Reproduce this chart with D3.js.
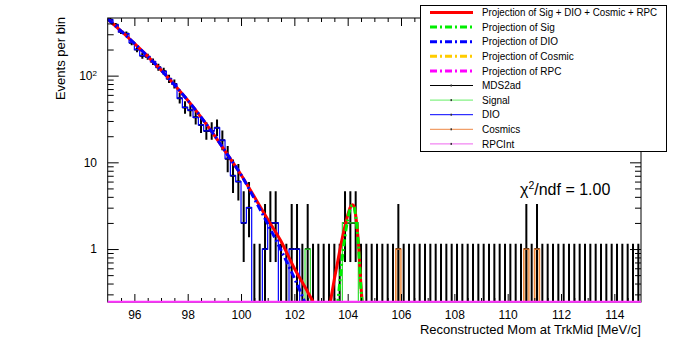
<!DOCTYPE html>
<html><head><meta charset="utf-8">
<script src="https://cdn.jsdelivr.net/npm/d3@7"></script>
<style>
body{margin:0;background:#fff;}
svg{display:block;}
text{font-family:"Liberation Sans",Arial,Helvetica,sans-serif;fill:#000;}
</style>
</head><body>
<svg id="c" width="675" height="360"></svg>
<script>
// ---------------- DATA ----------------
const binWidth = 0.2;
const binLow = d3.range(100).map(i => +(95 + binWidth * i).toFixed(1));

const dataCounts = [
 440,385,320,305,240,200,170,165,145,125,
 112,92,80,55,43,40,33,27,23,23,
 25,18,11,7,6,2,3,0,0,1,
 2,2,0,0,1,1,0,1,0,0,
 0,0,0,0,2,2,2,0,0,0,
 0,0,0,0,1,0,0,0,0,0,
 0,0,0,0,0,0,0,0,0,0,
 0,0,0,0,0,0,0,0,1,0,
 1,0,0,0,0,0,0,0,0,0,
 0,0,0,0,0,0,0,0,0,0];
const dioCounts = [
 440,385,320,305,240,200,170,165,145,125,
 112,92,80,55,43,40,33,27,23,23,
 25,18,11,7,6,2,3,0,0,1,
 2,2,0,0,1,1,0,0,0,0,
 0,0,0,0,0,0,0,0,0,0,
 0,0,0,0,0,0,0,0,0,0,
 0,0,0,0,0,0,0,0,0,0,
 0,0,0,0,0,0,0,0,0,0,
 0,0,0,0,0,0,0,0,0,0,
 0,0,0,0,0,0,0,0,0,0];
const sigCounts = [
 0,0,0,0,0,0,0,0,0,0,
 0,0,0,0,0,0,0,0,0,0,
 0,0,0,0,0,0,0,0,0,0,
 0,0,0,0,0,0,0,1,0,0,
 0,0,0,0,2,2,2,0,0,0,
 0,0,0,0,0,0,0,0,0,0,
 0,0,0,0,0,0,0,0,0,0,
 0,0,0,0,0,0,0,0,0,0,
 0,0,0,0,0,0,0,0,0,0,
 0,0,0,0,0,0,0,0,0,0];
const cosCounts = [
 0,0,0,0,0,0,0,0,0,0,
 0,0,0,0,0,0,0,0,0,0,
 0,0,0,0,0,0,0,0,0,0,
 0,0,0,0,0,0,0,0,0,0,
 0,0,0,0,0,0,0,0,0,0,
 0,0,0,0,1,0,0,0,0,0,
 0,0,0,0,0,0,0,0,0,0,
 0,0,0,0,0,0,0,0,1,0,
 1,0,0,0,0,0,0,0,0,0,
 0,0,0,0,0,0,0,0,0,0];

const totalFitX = [95.0,95.5,96.0,96.5,97.0,97.5,98.0,98.5,99.0,99.5,100.0,100.5,101.0,101.5,102.0,102.5,102.75,103.0,103.3,103.4,103.5,103.6,103.7,103.8,103.9,104.0,104.1,104.18,104.25,104.3,104.4,104.5,104.56,104.7,115.0];
const totalFit  = [450,327,235,167,116,78.7,52,33.3,20.5,12.2,7.2,4.0,2.2,1.23,0.60,0.32,0.23,0.15,0.2,0.3,0.45,0.65,0.95,1.35,1.85,2.45,3.05,3.25,3.05,2.45,1.2,0.37,0.21,0.12,0.12];
const dioFitX = [95.0,95.5,96.0,96.5,97.0,97.5,98.0,98.5,99.0,99.5,100.0,100.5,101.0,101.5,102.0,102.25,102.5];
const dioFit  = [450,327,235,167,116,78.7,52,33.3,20.5,12.2,7.2,3.8,1.95,0.97,0.46,0.31,0.2];
const sigFitX = [103.5,103.6,103.7,103.8,103.9,104.0,104.1,104.18,104.25,104.3,104.4,104.5,104.56,104.65];
const sigFit  = [0.1,0.2,0.4,0.8,1.4,2.2,2.95,3.2,3.0,2.4,1.15,0.35,0.2,0.1];

const xMajorTicks = [96,98,100,102,104,106,108,110,112,114];
const yMajorTicks = [1,10,100];
const yTickLabels = ["1","10","10"];
const yTickSup    = ["","","2"];

const legendLabels = ["Projection of Sig + DIO + Cosmic + RPC","Projection of Sig","Projection of DIO","Projection of Cosmic","Projection of RPC","MDS2ad","Signal","DIO","Cosmics","RPCInt"];
const legendColors = ["#ff0000","#00ee00","#0000ff","#ffcc00","#ff00ff","#000000","#66ee66","#0000ff","#ee8844","#ee66ee"];
const legendWidths = [3,3,3,3,3,1,1,1,1,1];
const legendDash   = [null,"7,3,2,3","7,3,2,3","7,3,2,3","7,3,2,3",null,null,null,null,null];

// ---------------- LAYOUT ----------------
const L = 107.7, R = 641, T = 18, B = 302;
const svg = d3.select("#c");
const x = d3.scaleLinear().domain([95,115]).range([L,R]);
const y = d3.scaleLog().domain([0.245,462]).range([B,T]);
const floorVal = 0.2;

svg.append("defs").append("clipPath").attr("id","clip")
  .append("rect").attr("x",L).attr("y",T).attr("width",R-L).attr("height",B-T);
const plot = svg.append("g").attr("clip-path","url(#clip)");

// Poisson (68%) intervals
const poisTable = [[0,1.148],[0.173,3.300],[0.708,4.638],[1.367,5.918],[2.086,7.163],[2.840,8.382],[3.620,9.584],[4.419,10.77],[5.232,11.95],[6.057,13.11],[6.891,14.27]];
function pInt(n){ return n<=10 ? poisTable[n] : [n-Math.sqrt(n), n+1+Math.sqrt(n+1)]; }

// cosmics fill
binLow.forEach((b,i)=>{
  if(cosCounts[i]>0){
    plot.append("rect").attr("x",x(b)).attr("width",x(b+binWidth)-x(b))
      .attr("y",y(cosCounts[i])).attr("height",B-y(cosCounts[i])+2)
      .attr("fill","#f7cba2");
  }
});

// data error bars
binLow.forEach((b,i)=>{
  const n = dataCounts[i], iv = pInt(n);
  const cx = x(b+binWidth/2);
  const lo = iv[0] > 0 ? y(Math.max(iv[0],floorVal)) : B+3;
  plot.append("line").attr("x1",cx).attr("x2",cx).attr("y1",lo).attr("y2",y(iv[1]))
    .attr("stroke","#000").attr("stroke-width",2);
  if(n>0){
    plot.append("line").attr("x1",x(b)).attr("x2",x(b+binWidth)).attr("y1",y(n)).attr("y2",y(n))
      .attr("stroke","#000").attr("stroke-width",2);
  }
});

// histograms
function histPath(counts){
  const pts = binLow.map((b,i)=>[b,counts[i]]);
  pts.push([115, counts[counts.length-1]]);
  return d3.line().x(d=>x(d[0])).y(d=>y(Math.max(d[1],floorVal))).curve(d3.curveStepAfter)(pts);
}
plot.append("path").attr("d",histPath(cosCounts)).attr("fill","none").attr("stroke","#ee8030").attr("stroke-width",1.2);
plot.append("path").attr("d",histPath(sigCounts)).attr("fill","none").attr("stroke","#33dd33").attr("stroke-width",1.2);
plot.append("path").attr("d",histPath(dioCounts)).attr("fill","none").attr("stroke","#0000ff").attr("stroke-width",1.2);

// fit curves
const curveLine = d3.line().x(d=>x(d[0])).y(d=>y(d[1])).curve(d3.curveMonotoneX);
plot.append("path").attr("d",curveLine(totalFitX.map((v,i)=>[v,totalFit[i]])))
  .attr("fill","none").attr("stroke","#ff0000").attr("stroke-width",3);
plot.append("path").attr("d",curveLine(sigFitX.map((v,i)=>[v,sigFit[i]])))
  .attr("fill","none").attr("stroke","#00ee00").attr("stroke-width",3).attr("stroke-dasharray","7,3,2,3");
plot.append("path").attr("d",curveLine(dioFitX.map((v,i)=>[v,dioFit[i]])))
  .attr("fill","none").attr("stroke","#0000ff").attr("stroke-width",3).attr("stroke-dasharray","7,3,2,3");

// ---------------- AXES ----------------
const xMinor = d3.range(95.5,115,0.5).filter(v=>!xMajorTicks.includes(v));
const yMinor = [0.3,0.4,0.5,0.6,0.7,0.8,0.9,2,3,4,5,6,7,8,9,20,30,40,50,60,70,80,90,200,300,400];

function styleAxis(g){ g.select(".domain").remove(); g.selectAll("line").attr("stroke","#000"); }
svg.append("g").attr("transform",`translate(0,${B})`)
  .call(d3.axisBottom(x).tickValues(xMajorTicks).tickSize(-8).tickPadding(8).tickFormat(d3.format("d")))
  .call(styleAxis).call(g=>g.selectAll("text").attr("font-size",12).attr("font-family","Liberation Sans, Arial, sans-serif").attr("fill","#000"));
svg.append("g").attr("transform",`translate(0,${B})`)
  .call(d3.axisBottom(x).tickValues(xMinor).tickSize(-4).tickFormat("")).call(styleAxis);
svg.append("g").attr("transform",`translate(0,${T})`)
  .call(d3.axisTop(x).tickValues(xMajorTicks).tickSize(-8).tickFormat("")).call(styleAxis);
svg.append("g").attr("transform",`translate(0,${T})`)
  .call(d3.axisTop(x).tickValues(xMinor).tickSize(-4).tickFormat("")).call(styleAxis);

svg.append("g").attr("transform",`translate(${L},0)`)
  .call(d3.axisLeft(y).tickValues(yMajorTicks).tickSize(-11).tickFormat("")).call(styleAxis);
svg.append("g").attr("transform",`translate(${L},0)`)
  .call(d3.axisLeft(y).tickValues(yMinor).tickSize(-6).tickFormat("")).call(styleAxis);
svg.append("g").attr("transform",`translate(${R},0)`)
  .call(d3.axisRight(y).tickValues(yMajorTicks).tickSize(-11).tickFormat("")).call(styleAxis);
svg.append("g").attr("transform",`translate(${R},0)`)
  .call(d3.axisRight(y).tickValues(yMinor).tickSize(-6).tickFormat("")).call(styleAxis);

yMajorTicks.forEach((v,i)=>{
  const t = svg.append("text").attr("x",97).attr("y",y(v)).attr("dy","0.36em")
    .attr("text-anchor","end").attr("font-size",12).text(yTickLabels[i]);
  if(yTickSup[i]) t.append("tspan").attr("font-size",8).attr("dy","-0.55em").text(yTickSup[i]);
});

// frame
svg.append("rect").attr("x",L).attr("y",T).attr("width",R-L).attr("height",B-T)
  .attr("fill","none").attr("stroke","#000").attr("stroke-width",1);

// RPC (all at bottom, drawn over the frame)
svg.append("line").attr("x1",L).attr("x2",R).attr("y1",B-0.3).attr("y2",B-0.3)
  .attr("stroke","#ff30ff").attr("stroke-width",2);

// axis titles
svg.append("text").attr("x",R).attr("y",334).attr("text-anchor","end").attr("font-size",13)
  .text("Reconstructed Mom at TrkMid [MeV/c]");
svg.append("text").attr("transform","translate(64.5,17) rotate(-90)").attr("text-anchor","end")
  .attr("font-size",13).text("Events per bin");

// chi2 text
const chi = svg.append("text").attr("x",520).attr("y",195).attr("font-size",16);
chi.append("tspan").text("χ");
chi.append("tspan").attr("font-size",10.5).attr("dy","-0.6em").text("2");
chi.append("tspan").attr("dy","0.4em").text("/ndf = 1.00");

// ---------------- LEGEND ----------------
const lg = svg.append("g");
lg.append("rect").attr("x",420.5).attr("y",5.5).attr("width",246).attr("height",146)
  .attr("fill","#fff").attr("stroke","#000").attr("stroke-width",1);
legendLabels.forEach((lab,i)=>{
  const yy = 12.5 + i*14.6;
  const ln = lg.append("line").attr("x1",430).attr("x2",473).attr("y1",yy).attr("y2",yy)
    .attr("stroke",legendColors[i]).attr("stroke-width",legendWidths[i]);
  if(legendDash[i]) ln.attr("stroke-dasharray",legendDash[i]);
  if(legendWidths[i]===1){
    lg.append("rect").attr("x",450.5).attr("y",yy-1).attr("width",1.5).attr("height",2).attr("fill","#333");
  }
  lg.append("text").attr("x",482).attr("y",yy+3.6).attr("font-size",10).attr("textLength",175)
    .attr("lengthAdjust","spacingAndGlyphs").text(lab);
});
// keep other legend labels at natural width
lg.selectAll("text").filter((d,i)=>i>0).attr("textLength",null).attr("lengthAdjust",null);
</script>
</body></html>
